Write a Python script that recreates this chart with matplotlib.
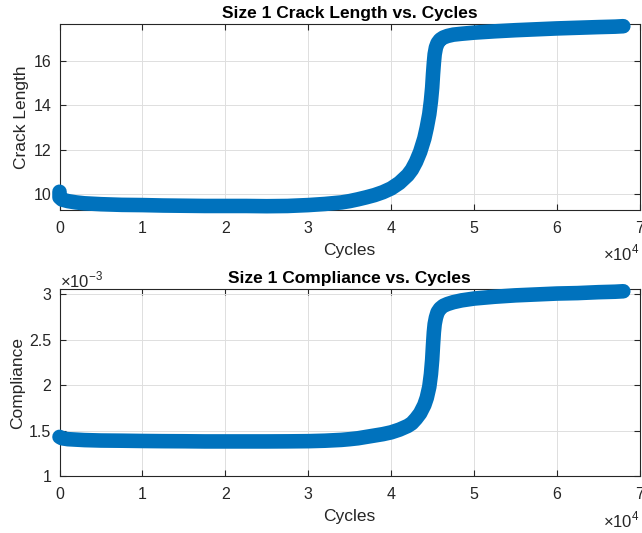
import matplotlib
matplotlib.use("Agg")
import matplotlib.pyplot as plt
from matplotlib.ticker import FuncFormatter, MultipleLocator

plt.rcParams['font.family'] = ['Liberation Sans', 'DejaVu Sans']
plt.rcParams['mathtext.fontset'] = 'custom'
plt.rcParams['mathtext.rm'] = 'Liberation Sans'

# ---- data ----
cycles = [0, 0, 300, 1000, 2000, 3000, 5000, 7500, 10000, 12500, 15000, 17500,
          20000, 22500, 25000, 27500, 30000, 32000, 34000, 35000, 36000, 37000,
          38000, 39000, 40000, 41000, 42000, 42500, 43000, 43500, 44000, 44300,
          44600, 44800, 44950, 45050, 45150, 45250, 45400, 45600, 45900, 46300,
          46800, 47500, 48500, 50000, 52500, 55000, 57500, 60000, 62500, 65000,
          67000, 68000]
crack_length = [10.1, 9.85, 9.75, 9.68, 9.62, 9.58, 9.54, 9.51, 9.5, 9.48, 9.47, 9.46,
                9.46, 9.46, 9.45, 9.46, 9.5, 9.55, 9.62, 9.68, 9.76, 9.85,
                9.95, 10.08, 10.25, 10.5, 10.85, 11.1, 11.45, 11.9, 12.5, 13.0,
                13.6, 14.2, 14.8, 15.4, 15.9, 16.3, 16.6, 16.8, 16.95, 17.05,
                17.12, 17.18, 17.22, 17.27, 17.33, 17.38, 17.42, 17.46, 17.49, 17.52,
                17.54, 17.56]

cycles_c = [0, 300, 1000, 2000, 3000, 5000, 7500, 10000, 12500, 15000, 17500,
            20000, 22500, 25000, 27500, 30000, 32000, 34000, 35000, 36000, 37000,
            38000, 39000, 40000, 41000, 42000, 42500, 43000, 43500, 44000, 44300,
            44600, 44800, 44950, 45050, 45150, 45250, 45400, 45600, 45900, 46300,
            46800, 47500, 48500, 50000, 52500, 55000, 57500, 60000, 62500, 65000,
            67000, 68000]
compliance = [1.43e-3, 1.415e-3, 1.405e-3, 1.4e-3, 1.395e-3, 1.39e-3, 1.388e-3, 1.385e-3,
              1.383e-3, 1.382e-3, 1.38e-3, 1.38e-3, 1.38e-3, 1.38e-3, 1.381e-3, 1.383e-3,
              1.388e-3, 1.397e-3, 1.405e-3, 1.415e-3, 1.43e-3, 1.445e-3, 1.46e-3,
              1.48e-3, 1.51e-3, 1.55e-3, 1.58e-3, 1.63e-3, 1.69e-3, 1.78e-3, 1.86e-3,
              1.98e-3, 2.12e-3, 2.28e-3, 2.44e-3, 2.58e-3, 2.67e-3, 2.74e-3, 2.8e-3,
              2.84e-3, 2.87e-3, 2.89e-3, 2.91e-3, 2.93e-3, 2.95e-3, 2.97e-3, 2.985e-3,
              2.995e-3, 3.005e-3, 3.01e-3, 3.02e-3, 3.025e-3, 3.03e-3]

BLUE = '#0072BD'
TXT = '#262626'

fig = plt.figure(figsize=(6.42, 5.33), dpi=100)
ax1 = fig.add_axes([0.0927, 0.6069, 0.904, 0.3481])
ax2 = fig.add_axes([0.0927, 0.1069, 0.904, 0.3509])


def style(ax):
    ax.set_xlim(0, 70000)
    ax.xaxis.set_major_locator(MultipleLocator(10000))
    ax.xaxis.set_major_formatter(FuncFormatter(lambda v, p: '%g' % (v / 1e4)))
    ax.grid(True, color='#dedede', linewidth=0.7)
    ax.set_axisbelow(True)
    for s in ax.spines.values():
        s.set_color(TXT)
        s.set_linewidth(0.8)
    ax.tick_params(direction='in', length=4, width=0.8, colors=TXT,
                   labelsize=11.5, top=True, right=True)
    ax.tick_params(axis='x', pad=8)
    ax.tick_params(axis='y', pad=6)
    ax.set_xlabel('Cycles', fontsize=12.5, color=TXT, labelpad=5)


def draw(ax, x, y):
    ax.plot(x, y, '-', color=BLUE, linewidth=10.5, solid_capstyle='round',
            solid_joinstyle='round', clip_on=False, zorder=3)
    ax.plot(x, y, 'o', color=BLUE, markerfacecolor='none', markersize=7,
            markeredgewidth=0.9, clip_on=False, zorder=4)


draw(ax1, cycles, crack_length)
style(ax1)
ax1.set_ylim(9.3, 17.66)
ax1.set_yticks([10, 12, 14, 16])
ax1.set_ylabel('Crack Length', fontsize=12.5, color=TXT, labelpad=3)
ax1.set_title('Size 1 Crack Length vs. Cycles', fontsize=12.5, fontweight='bold',
              color='black', pad=4)
ax1.text(1.0, -0.235, r'$\times10^{4}$', transform=ax1.transAxes, ha='right',
         va='center', fontsize=12, color=TXT)

draw(ax2, cycles_c, compliance)
style(ax2)
ax2.set_ylim(1.0e-3, 3.055e-3)
ax2.set_yticks([1.0e-3, 1.5e-3, 2.0e-3, 2.5e-3, 3.0e-3])
ax2.yaxis.set_major_formatter(FuncFormatter(lambda v, p: '%g' % round(v * 1e3, 3)))
ax2.set_ylabel('Compliance', fontsize=12.5, color=TXT, labelpad=3)
ax2.set_title('Size 1 Compliance vs. Cycles', fontsize=12.5, fontweight='bold',
              color='black', pad=4)
ax2.text(1.0, -0.235, r'$\times10^{4}$', transform=ax2.transAxes, ha='right',
         va='center', fontsize=12, color=TXT)
ax2.text(0.0, 1.05, r'$\times10^{-3}$', transform=ax2.transAxes, ha='left',
         va='center', fontsize=12, color=TXT)

fig.savefig('out.png', dpi=100)
